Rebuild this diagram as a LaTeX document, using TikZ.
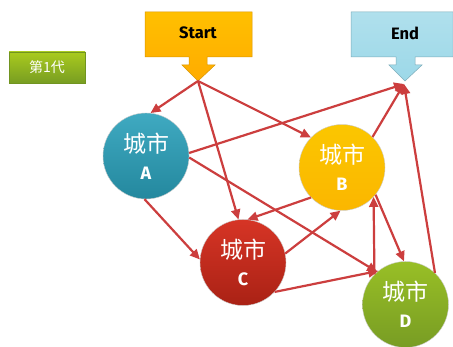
\documentclass[tikz,border=0pt]{standalone}
\usepackage{fontspec}
\setmainfont{Fira Sans}
\newfontfamily\cjk{Noto Sans CJK SC}
\usetikzlibrary{arrows.meta}
\definecolor{edgered}{RGB}{204,62,62}
\definecolor{startor}{RGB}{255,176,0}
\definecolor{endblue}{RGB}{156,216,232}
\definecolor{gengreen}{RGB}{141,185,40}
\definecolor{cityA}{RGB}{42,160,186}
\definecolor{cityB}{RGB}{250,192,0}
\definecolor{cityC}{RGB}{212,42,26}
\definecolor{cityD}{RGB}{141,184,42}
\tikzset{
  city/.style={circle, minimum size=86pt, inner sep=0pt, align=center, text=white,
    font=\fontsize{22}{28}\selectfont, draw=white!60!gray, line width=0.4pt},
  link/.style={draw=edgered, line width=2.2pt, -{Triangle[length=10pt,width=9pt]}},
  labeltxt/.style={font=\fontsize{16.5}{20}\selectfont\bfseries, text=black},
}
\newcommand{\citytext}[1]{{\cjk\fontsize{23}{26}\selectfont 城市}\\[-1pt]{\fontsize{18}{20}\selectfont\bfseries #1}}
\begin{document}
\begin{tikzpicture}[x=1pt,y=-1pt]
\useasboundingbox (0,0) rectangle (453,347);
\fill[white] (0,0) rectangle (453,347);
% Start shape
\path[top color=startor!80!yellow, bottom color=startor!90!orange, draw=startor!85!black, line width=0.5pt]
  (145,12) -- (252,12) -- (252,57) -- (207,57) -- (207,65) -- (215,65) -- (198,81)
  -- (182,65) -- (189,65) -- (189,57) -- (145,57) -- cycle;
\node[labeltxt] (start) at (198,33) {Start};
\coordinate (stip) at (198,81);
% End shape
\path[top color=endblue!80!white, bottom color=endblue, draw=endblue!80!black, line width=0.5pt]
  (351,12) -- (453,12) -- (453,57) -- (415,57) -- (415,65) -- (422,65) -- (405,81)
  -- (389,65) -- (396,65) -- (396,57) -- (351,57) -- cycle;
\node[labeltxt] (end) at (405,33) {End};
\coordinate (etip) at (404,84);
% generation label
\node[minimum width=76pt, minimum height=31pt, inner sep=0pt, top color=gengreen!75!yellow,
  bottom color=gengreen!85!black, draw=gengreen!80!black, line width=0.4pt, text=white,
  font=\cjk\fontsize{14}{16}\selectfont] (gen) at (47,67.5) {第1代};
% cities
\node[city, top color=cityA!90!white, bottom color=cityA!85!black] (A) at (146,156) {\citytext{A}};
\node[city, top color=cityB!90!yellow, bottom color=cityB!85!orange] (B) at (342,167.5) {\citytext{B}};
\node[city, top color=cityC!95!white, bottom color=cityC!80!black] (C) at (243,262.5) {\citytext{C}};
\node[city, top color=cityD!90!yellow, bottom color=cityD!85!black] (D) at (405.5,304.5) {\citytext{D}};
% connectors
\path[link] (stip) -- (A.84);
\path[link] (stip) -- (C.96);
\path[link] (stip) -- (B.136);
\path[link] (A.4) -- (etip);
\path[link] (A.-2) -- (D.131);
\path[link] (A.-92) -- (C.176);
\path[link] (B.-136) -- (C.84);
\path[link] (C.12) -- (B.-92);
\path[link] (C.-43) -- (D.129);
\path[link] (D.136) -- (B.-43);
\path[link] (B.-39) -- (D.92);
\path[link] (B.45) -- (etip);
\path[link] (D.47) -- (etip);
\end{tikzpicture}
\end{document}
